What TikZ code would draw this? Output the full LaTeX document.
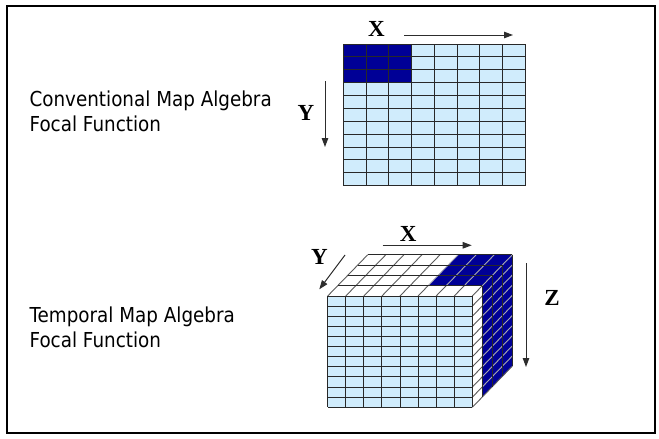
\documentclass[tikz,border=0pt]{standalone}
\usepackage{fontspec}
\setmainfont{DejaVu Sans}[FakeStretch=0.89]
\newfontfamily\axisfont{Liberation Serif}
\usetikzlibrary{arrows.meta}
\definecolor{cellblue}{RGB}{208,236,252}
\definecolor{navycell}{RGB}{0,0,150}
\definecolor{gridline}{RGB}{40,40,40}
\definecolor{arrowgray}{RGB}{45,45,45}
\definecolor{sidedark}{RGB}{90,90,90}
\definecolor{sidelight}{RGB}{170,170,175}
\begin{document}
\begin{tikzpicture}[x=1pt,y=-1pt,
  axislabel/.style={font=\axisfont\bfseries\fontsize{23}{23}\selectfont, inner sep=0pt},
  caption/.style={font=\fontsize{20.6}{25}\selectfont, anchor=base west, inner sep=0pt},
  axisarrow/.style={draw=arrowgray, line width=1pt, -{Triangle[length=9pt,width=6.5pt]}},
  gridln/.style={draw=gridline, line width=0.9pt},
  darkln/.style={draw=sidedark, line width=0.9pt},
  lightln/.style={draw=sidelight, line width=0.9pt}]
\useasboundingbox (0,0) rectangle (659,439);
\draw[line width=2pt] (7,6) rectangle (655,433);

% ---------- conventional grid ----------
\fill[cellblue] (343.3,44) rectangle (525.3,185.7);
\fill[navycell] (343.3,44) rectangle ++(68.25,38.64);
\foreach \i in {0,...,8} \draw[gridln] (343.3+\i*22.75,44) -- ++(0,141.7);
\foreach \j in {0,...,11} \draw[gridln] (343.3,44+\j*12.882) -- ++(182,0);

% ---------- cube: top face ----------
% P(i,d) = (327.7+18.075 i + 10 d, 296 - 10.3 d)
\fill[navycell] (428.1,285.7) -- (482.3,285.7) -- (512.3,254.8) -- (458.1,254.8) -- cycle;
% ---------- cube: right face ----------
% Q(d,k) = (472.3+10 d, 296+10.12 k - 10.3 d)
\fill[navycell] (482.3,285.7) -- (512.3,254.8) -- (512.3,366.1) -- (482.3,397.0) -- cycle;
% slanted lines of top face (columns)
\foreach \i in {0,...,4}
  \draw[darkln] (327.7+\i*18.075,296) -- ++(40,-41.2);
\foreach \i in {5,...,8} {
  \draw[darkln] (327.7+\i*18.075,296) -- ++(10,-10.3);
  \draw[lightln] (337.7+\i*18.075,285.7) -- ++(30,-30.9);
}
% row lines of top face
\foreach \d in {1,...,4}
  \draw[gridln] (327.7+\d*10,296-\d*10.3) -- ++(144.6,0);
% slanted lines of right face (rows)
\foreach \k in {1,...,10} {
  \draw[darkln] (472.3,296+\k*10.12) -- ++(10,-10.3);
  \draw[lightln] (482.3,285.7+\k*10.12) -- ++(30,-30.9);
}
\draw[darkln] (472.3,407.3) -- ++(10,-10.3);
\draw[darkln] (482.3,397.0) -- ++(30,-30.9);
% vertical lines of right face
\foreach \d in {1,...,4}
  \draw[gridln] (472.3+\d*10,296-\d*10.3) -- ++(0,111.3);

% ---------- cube: front face ----------
\fill[cellblue] (327.7,296) rectangle (472.3,407.3);
\foreach \i in {0,...,8} \draw[gridln] (327.7+\i*18.075,296) -- ++(0,111.3);
\foreach \j in {0,...,11} \draw[gridln] (327.7,296+\j*10.118) -- ++(144.6,0);

% ---------- captions ----------
\node[caption] (conv1) at (29.4,106.5) {Conventional Map Algebra};
\node[caption] (conv2) at (29.4,131.5) {Focal Function};
\node[caption] (temp1) at (29.4,322.5) {Temporal Map Algebra};
\node[caption] (temp2) at (29.4,347.5) {Focal Function};

% ---------- axis labels ----------
\node[axislabel] (tx) at (376.5,29) {X};
\node[axislabel] (ty) at (306,112.7) {Y};
\node[axislabel] (bx) at (408.3,233.5) {X};
\node[axislabel] (by) at (319.5,257) {Y};
\node[axislabel] (bz) at (552,298) {Z};

% ---------- axis arrows ----------
\coordinate (txa) at (404,35);   \coordinate (txb) at (513,35);
\coordinate (tya) at (325,81);   \coordinate (tyb) at (325,147);
\coordinate (bxa) at (382.7,245.3); \coordinate (bxb) at (471.7,245.3);
\coordinate (bya) at (345,255);  \coordinate (byb) at (319.3,289.3);
\coordinate (bza) at (526,263);  \coordinate (bzb) at (526,367);
\draw[axisarrow] (txa) -- (txb);
\draw[axisarrow] (tya) -- (tyb);
\draw[axisarrow] (bxa) -- (bxb);
\draw[axisarrow] (bya) -- (byb);
\draw[axisarrow] (bza) -- (bzb);
\end{tikzpicture}
\end{document}
